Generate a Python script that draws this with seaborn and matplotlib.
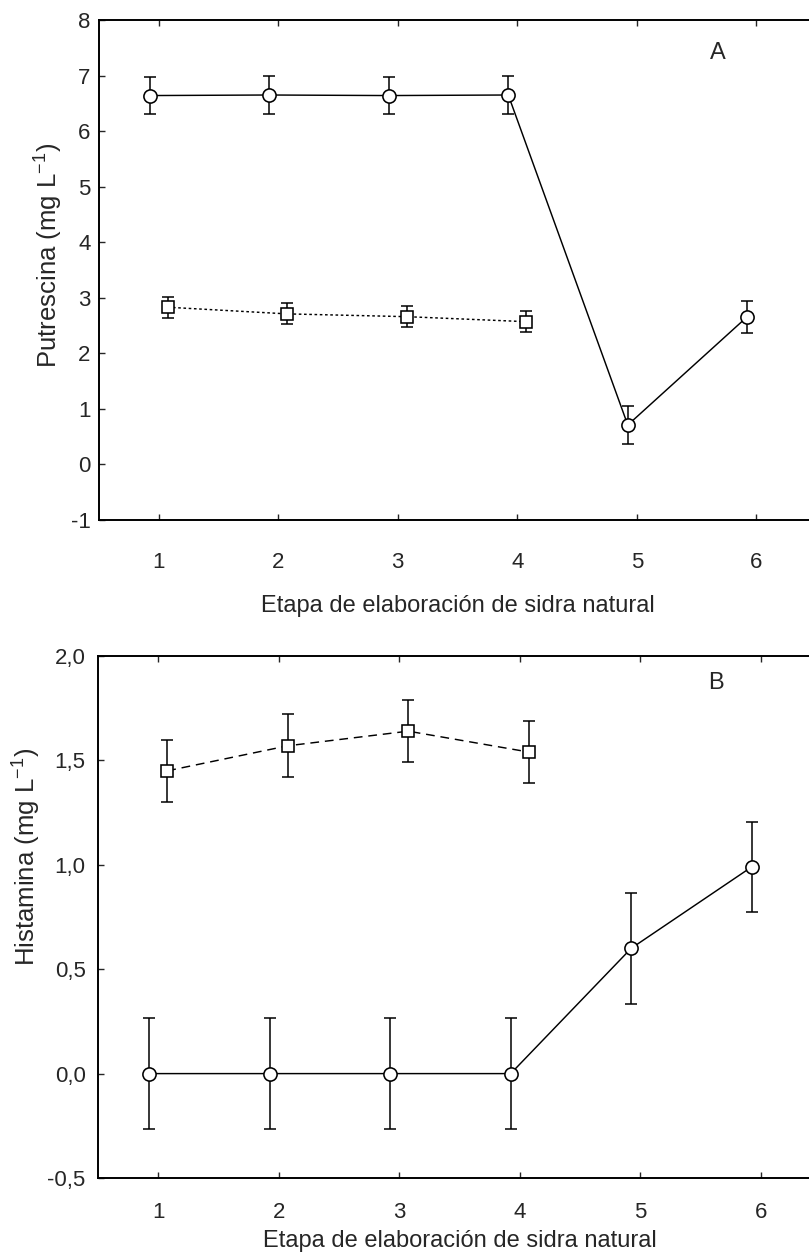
import matplotlib
matplotlib.use("Agg")
import matplotlib.pyplot as plt
from matplotlib.ticker import FuncFormatter, MultipleLocator
import seaborn as sns
import pandas as pd

# Stages of natural cider making
stages = [1, 2, 3, 4, 5, 6]
stages_sq = [1, 2, 3, 4]

# Panel A: putrescine (mg/L)
put_circle = [6.64, 6.65, 6.64, 6.65, 0.71, 2.66]
put_circle_err = [0.34, 0.34, 0.34, 0.34, 0.34, 0.29]
put_square = [2.83, 2.71, 2.66, 2.57]
put_square_err = [0.19, 0.19, 0.19, 0.19]

# Panel B: histamine (mg/L)
his_circle = [0.0, 0.0, 0.0, 0.0, 0.60, 0.99]
his_circle_err = [0.265, 0.265, 0.265, 0.265, 0.265, 0.215]
his_square = [1.45, 1.57, 1.64, 1.54]
his_square_err = [0.15, 0.15, 0.15, 0.15]

x_ticks = [1, 2, 3, 4, 5, 6]
xlabel = "Etapa de elaboración de sidra natural"

sns.set_style("ticks")
plt.rcParams["font.family"] = ["Liberation Sans", "DejaVu Sans"]
plt.rcParams["axes.unicode_minus"] = False
plt.rcParams["xtick.direction"] = "in"
plt.rcParams["ytick.direction"] = "in"

W, H = 809, 1252
fig = plt.figure(figsize=(W / 100, H / 100), dpi=100)

def frac_box(left, top, right, bottom):
    return [left / W, 1 - bottom / H, (right - left) / W, (bottom - top) / H]

ax_a = fig.add_axes(frac_box(99, 20, 816, 520))
ax_b = fig.add_axes(frac_box(98, 656, 821, 1178))

SHIFT = 0.075  # horizontal separation of the two series at each stage


def draw_series(ax, xs, ys, errs, marker, ls, shift, msize):
    xpos = [x + shift for x in xs]
    df = pd.DataFrame({"etapa": xpos, "valor": ys})
    ax.errorbar(xpos, ys, yerr=errs, fmt="none", ecolor="black",
                elinewidth=1.1, capsize=4.6, capthick=1.1, zorder=2)
    sns.lineplot(data=df, x="etapa", y="valor", ax=ax, color="black",
                 linewidth=1.05, linestyle=ls, marker=marker,
                 markersize=msize, markerfacecolor="white",
                 markeredgecolor="black", markeredgewidth=1.15,
                 errorbar=None, zorder=3)


draw_series(ax_a, stages, put_circle, put_circle_err, "o", "-", -SHIFT, 9.5)
draw_series(ax_a, stages_sq, put_square, put_square_err, "s", (0, (1.8, 1.8)), SHIFT, 9.0)

draw_series(ax_b, stages, his_circle, his_circle_err, "o", "-", -SHIFT, 9.5)
draw_series(ax_b, stages_sq, his_square, his_square_err, "s", (0, (6, 4)), SHIFT, 9.0)

comma = FuncFormatter(lambda v, p: f"{v:.1f}".replace(".", ","))

for ax in (ax_a, ax_b):
    ax.set_xlim(0.5, 6.5)
    ax.set_xticks(x_ticks)
    ax.tick_params(axis="both", which="both", direction="in", length=4,
                   width=1.0, top=True, right=True, labelsize=16)
    for s in ax.spines.values():
        s.set_linewidth(1.4)
        s.set_color("black")

ax_a.tick_params(axis="x", pad=23)
ax_a.set_xlabel(xlabel, fontsize=17, labelpad=16)
ax_b.tick_params(axis="x", pad=17)
ax_b.set_xlabel(xlabel, fontsize=17, labelpad=5)

ax_a.set_ylim(-1, 8)
ax_a.yaxis.set_major_locator(MultipleLocator(1))
ax_a.tick_params(axis="y", pad=6)
ax_a.set_ylabel("Putrescina (mg L$^{\\mathregular{-1}}$)", fontsize=18.5)
ax_a.yaxis.set_label_coords(-0.049, 0.53)
ax_a.text(5.68, 7.4, "A", fontsize=17, ha="center", va="center")

ax_b.set_ylim(-0.5, 2.0)
ax_b.yaxis.set_major_locator(MultipleLocator(0.5))
ax_b.yaxis.set_major_formatter(comma)
ax_b.tick_params(axis="y", pad=9)
ax_b.set_ylabel("Histamina (mg L$^{\\mathregular{-1}}$)", fontsize=18.5)
ax_b.yaxis.set_label_coords(-0.077, 0.615)
ax_b.text(5.63, 1.87, "B", fontsize=17, ha="center", va="center")

fig.savefig("out.png", dpi=100)
